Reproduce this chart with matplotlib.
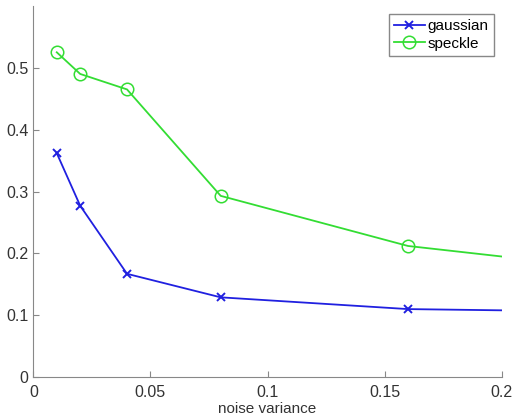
import numpy as np
import matplotlib
matplotlib.use("Agg")
import matplotlib.pyplot as plt

# dados
variancia = [0.01, 0.02, 0.04, 0.08, 0.16, 0.2]
gaussian = [0.362, 0.277, 0.167, 0.129, 0.110, 0.108]
speckle = [0.525, 0.490, 0.465, 0.293, 0.212, 0.195]
xticks = [0, 0.05, 0.1, 0.15, 0.2]
yticks = [0, 0.1, 0.2, 0.3, 0.4, 0.5]

plt.rcParams['font.family'] = ['Liberation Sans', 'DejaVu Sans']

fig = plt.figure(figsize=(5.13, 4.2), dpi=100)
ax = fig.add_axes([0.065, 0.102, 0.913, 0.884])

ax.plot(variancia, gaussian, color='#2020e0', lw=1.3, marker='x', ms=6, mew=1.4,
        markevery=[0, 1, 2, 3, 4], label='gaussian')
ax.plot(variancia, speckle, color='#33dd33', lw=1.3, marker='o', ms=9, mew=1.1,
        mfc='none', markevery=[0, 1, 2, 3, 4], label='speckle')

ax.set_xlim(0, 0.2)
ax.set_ylim(0, 0.6)
ax.set_xticks(xticks)
ax.set_xticklabels(['0', '0.05', '0.1', '0.15', '0.2'])
ax.set_yticks(yticks)
ax.set_yticklabels(['0', '0.1', '0.2', '0.3', '0.4', '0.5'])
ax.tick_params(direction='in', length=4, color='#888888', labelsize=11.5,
               labelcolor='#333333')
ax.tick_params(axis='x', pad=6)
for s in ['top', 'right']:
    ax.spines[s].set_visible(False)
for s in ['left', 'bottom']:
    ax.spines[s].set_color('#888888')

ax.set_xlabel('noise variance', fontsize=11, color='#333333', labelpad=1)
ax.set_ylabel('registration error', fontsize=11.5, color='#333333', labelpad=19)

leg = ax.legend(loc='upper right', fontsize=11, handlelength=2.0, handletextpad=0.2,
                borderpad=0.35, labelspacing=0.25, fancybox=False, framealpha=1,
                bbox_to_anchor=(1.0, 1.0))
leg.get_frame().set_edgecolor('#888888')

fig.savefig('out.png', dpi=100)
